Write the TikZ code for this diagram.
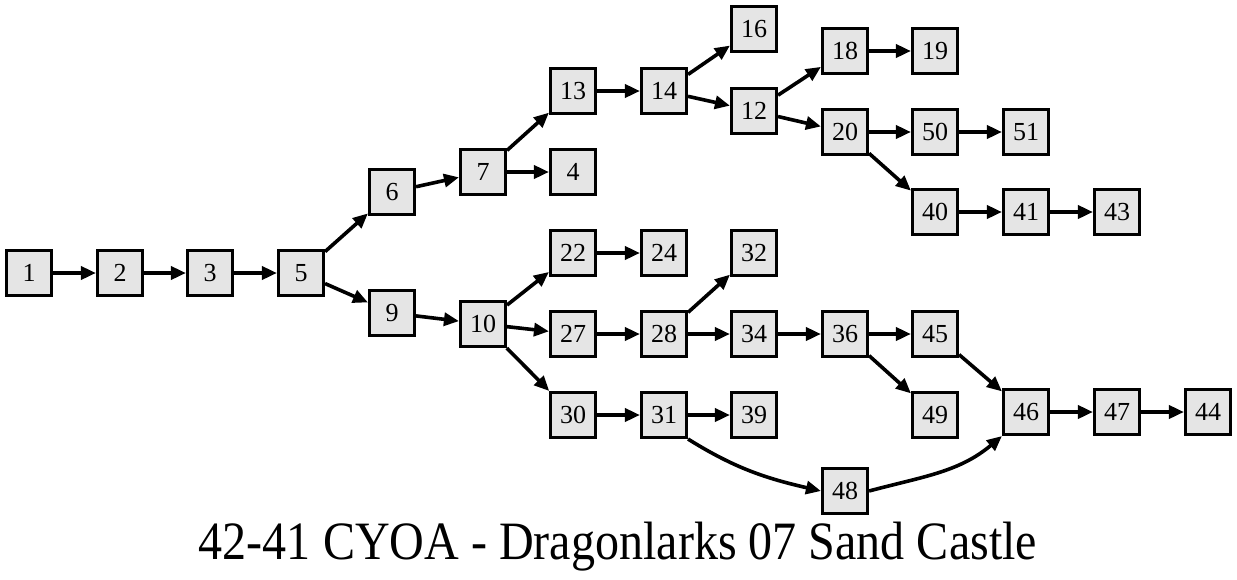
\documentclass[tikz,border=0pt]{standalone}
\usepackage{fontspec}
\setmainfont{Liberation Serif}
\usetikzlibrary{arrows.meta}
\definecolor{boxfill}{HTML}{E5E5E5}
\begin{document}
\begin{tikzpicture}[x=1pt,y=-1pt,
  box/.style={draw=black,fill=boxfill,line width=2.6pt,minimum width=45.5pt,minimum height=45.5pt,inner sep=0pt,font=\fontsize{26}{28}\selectfont},
  edge/.style={line width=3.6pt,-{Triangle[length=15pt,width=13pt]}}]
\useasboundingbox (0,0) rectangle (1237,579);
\node[box] (n1) at (29,273) {1};
\node[box] (n2) at (120,273) {2};
\node[box] (n3) at (210,273) {3};
\node[box] (n5) at (301,273) {5};
\node[box] (n6) at (392,192) {6};
\node[box] (n9) at (392,313) {9};
\node[box] (n7) at (483,172) {7};
\node[box] (n10) at (483,324) {10};
\node[box] (n13) at (573,91) {13};
\node[box] (n4) at (573,172) {4};
\node[box] (n22) at (573,253) {22};
\node[box] (n27) at (573,334) {27};
\node[box] (n30) at (573,415) {30};
\node[box] (n14) at (664,91) {14};
\node[box] (n24) at (664,253) {24};
\node[box] (n28) at (664,334) {28};
\node[box] (n31) at (664,415) {31};
\node[box] (n16) at (754,29) {16};
\node[box] (n12) at (754,111) {12};
\node[box] (n32) at (754,253) {32};
\node[box] (n34) at (754,334) {34};
\node[box] (n39) at (754,415) {39};
\node[box] (n18) at (845,51) {18};
\node[box] (n20) at (845,132) {20};
\node[box] (n36) at (845,334) {36};
\node[box] (n48) at (845,491) {48};
\node[box] (n19) at (935,51) {19};
\node[box] (n50) at (935,132) {50};
\node[box] (n40) at (935,212) {40};
\node[box] (n45) at (935,334) {45};
\node[box] (n49) at (935,415) {49};
\node[box] (n51) at (1026,132) {51};
\node[box] (n41) at (1026,212) {41};
\node[box] (n46) at (1026,412) {46};
\node[box] (n43) at (1117,212) {43};
\node[box] (n47) at (1117,412) {47};
\node[box] (n44) at (1208,412) {44};
\node[font=\fontsize{54}{56}\selectfont,inner sep=0pt,anchor=base] (title) at (618,559) {\scalebox{0.89}[1]{42-41 CYOA - Dragonlarks 07 Sand Castle}};
\draw[edge] (n1) -- (n2);
\draw[edge] (n2) -- (n3);
\draw[edge] (n3) -- (n5);
\draw[edge] (n5) -- (n6);
\draw[edge] (n5) -- (n9);
\draw[edge] (n6) -- (n7);
\draw[edge] (n9) -- (n10);
\draw[edge] (n7) -- (n13);
\draw[edge] (n7) -- (n4);
\draw[edge] (n10) -- (n22);
\draw[edge] (n10) -- (n27);
\draw[edge] (n10) -- (n30);
\draw[edge] (n13) -- (n14);
\draw[edge] (n14) -- (n16);
\draw[edge] (n14) -- (n12);
\draw[edge] (n12) -- (n18);
\draw[edge] (n12) -- (n20);
\draw[edge] (n18) -- (n19);
\draw[edge] (n20) -- (n50);
\draw[edge] (n20) -- (n40);
\draw[edge] (n50) -- (n51);
\draw[edge] (n40) -- (n41);
\draw[edge] (n41) -- (n43);
\draw[edge] (n22) -- (n24);
\draw[edge] (n27) -- (n28);
\draw[edge] (n28) -- (n32);
\draw[edge] (n28) -- (n34);
\draw[edge] (n34) -- (n36);
\draw[edge] (n36) -- (n45);
\draw[edge] (n36) -- (n49);
\draw[edge] (n45) -- (n46);
\draw[edge] (n30) -- (n31);
\draw[edge] (n31) -- (n39);
\draw[edge] (n31.south east) to[out=-32,in=167] (n48.west);
\draw[edge] (n48.east) to[out=15,in=-140] (n46.south west);
\draw[edge] (n46) -- (n47);
\draw[edge] (n47) -- (n44);
\end{tikzpicture}
\end{document}
